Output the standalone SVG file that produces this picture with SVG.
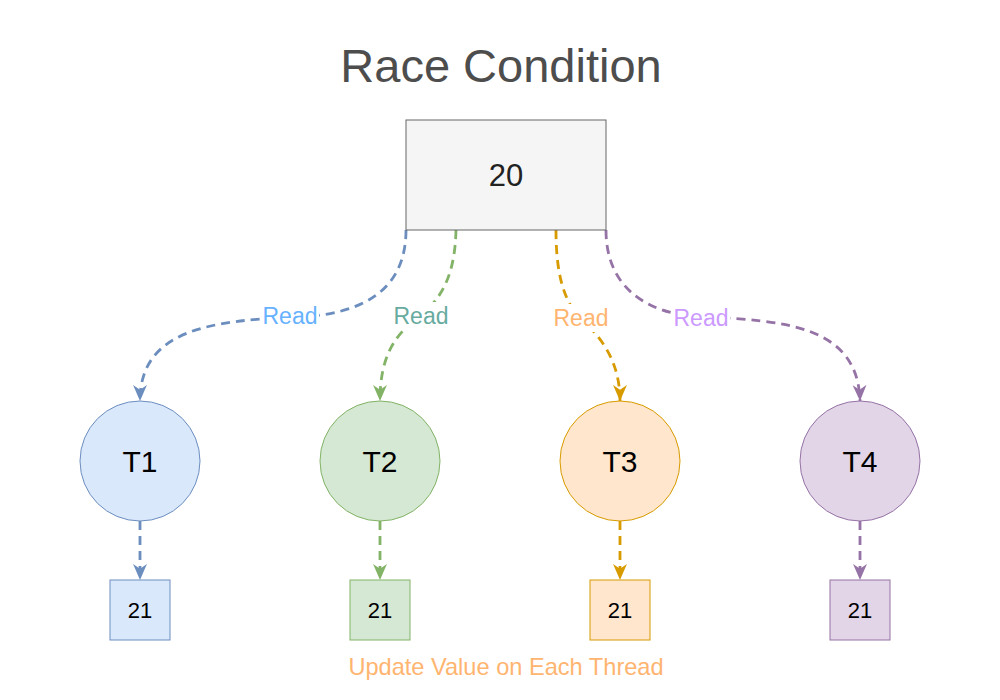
<svg xmlns="http://www.w3.org/2000/svg" width="1000" height="700" viewBox="0 0 1000 700">
<defs>
<style>
text{font-family:"Liberation Sans",Arial,Helvetica,sans-serif;text-anchor:middle}
.title{font-size:47px;fill:#4d4d4d}
.big{font-size:31px;fill:#222}
.node{font-size:30px;fill:#000}
.small{font-size:22px;fill:#000}
.lbl{font-size:23px}
.foot{font-size:23.6px}
.edge{fill:none;stroke-width:2.8;stroke-dasharray:9 6}
.bg{fill:#fff}
</style>
<marker id="aB" viewBox="0 0 12 12" refX="12" refY="6" markerWidth="16" markerHeight="16" markerUnits="userSpaceOnUse" orient="auto"><path d="M0,0.8 L12,6 L0,11.2 L3.5,6 Z" fill="#6c8ebf"/></marker>
<marker id="aG" viewBox="0 0 12 12" refX="12" refY="6" markerWidth="16" markerHeight="16" markerUnits="userSpaceOnUse" orient="auto"><path d="M0,0.8 L12,6 L0,11.2 L3.5,6 Z" fill="#82b366"/></marker>
<marker id="aO" viewBox="0 0 12 12" refX="12" refY="6" markerWidth="16" markerHeight="16" markerUnits="userSpaceOnUse" orient="auto"><path d="M0,0.8 L12,6 L0,11.2 L3.5,6 Z" fill="#d79b00"/></marker>
<marker id="aP" viewBox="0 0 12 12" refX="12" refY="6" markerWidth="16" markerHeight="16" markerUnits="userSpaceOnUse" orient="auto"><path d="M0,0.8 L12,6 L0,11.2 L3.5,6 Z" fill="#9673a6"/></marker>
</defs>
<rect width="1000" height="700" fill="#fff"/>
<text class="title" x="501" y="82">Race Condition</text>

<g id="connectors">
<path class="edge" stroke="#6c8ebf" marker-end="url(#aB)" d="M406,230 C406,292 360,314 300,317 C210,320 140,330 140,401"/>
<path class="edge" stroke="#82b366" marker-end="url(#aG)" d="M456,230 C455,270 445,296 420,316 C392,336 380,360 380,401"/>
<path class="edge" stroke="#d79b00" marker-end="url(#aO)" d="M556,230 C556,272 563,300 580,318 C600,336 620,360 620,401"/>
<path class="edge" stroke="#9673a6" marker-end="url(#aP)" d="M606,230 C606,290 650,314 700,317 C785,320 858,326 860,401"/>
<path class="edge" stroke="#6c8ebf" marker-end="url(#aB)" d="M140,521 L140,580"/>
<path class="edge" stroke="#82b366" marker-end="url(#aG)" d="M380,521 L380,580"/>
<path class="edge" stroke="#d79b00" marker-end="url(#aO)" d="M620,521 L620,580"/>
<path class="edge" stroke="#9673a6" marker-end="url(#aP)" d="M860,521 L860,580"/>
<rect class="bg" x="261" y="304" width="58" height="24"/>
<text class="lbl" x="290" y="324" fill="#66b2ff">Read</text>
<rect class="bg" x="392" y="302" width="58" height="28"/>
<text class="lbl" x="421" y="324" fill="#67ab9f">Read</text>
<rect class="bg" x="552" y="304" width="58" height="28"/>
<text class="lbl" x="581" y="326" fill="#ffb570">Read</text>
<rect class="bg" x="672" y="306" width="58" height="24"/>
<text class="lbl" x="701" y="326" fill="#cc99ff">Read</text>
</g>

<g id="value">
<rect x="406" y="120" width="200" height="110" fill="#f5f5f5" stroke="#666" stroke-width="1"/>
<text class="big" x="506" y="186">20</text>
</g>

<g id="t1"><circle cx="140" cy="461" r="60" fill="#dae8fc" stroke="#6c8ebf"/><text class="node" x="140" y="472">T1</text></g>
<g id="t2"><circle cx="380" cy="461" r="60" fill="#d5e8d4" stroke="#82b366"/><text class="node" x="380" y="472">T2</text></g>
<g id="t3"><circle cx="620" cy="461" r="60" fill="#ffe6cc" stroke="#d79b00"/><text class="node" x="620" y="472">T3</text></g>
<g id="t4"><circle cx="860" cy="461" r="60" fill="#e1d5e7" stroke="#9673a6"/><text class="node" x="860" y="472">T4</text></g>

<g id="v1"><rect x="110" y="580" width="60" height="60" fill="#dae8fc" stroke="#6c8ebf"/><text class="small" x="140" y="618">21</text></g>
<g id="v2"><rect x="350" y="580" width="60" height="60" fill="#d5e8d4" stroke="#82b366"/><text class="small" x="380" y="618">21</text></g>
<g id="v3"><rect x="590" y="580" width="60" height="60" fill="#ffe6cc" stroke="#d79b00"/><text class="small" x="620" y="618">21</text></g>
<g id="v4"><rect x="830" y="580" width="60" height="60" fill="#e1d5e7" stroke="#9673a6"/><text class="small" x="860" y="618">21</text></g>

<text class="foot" x="506" y="675" fill="#ffb570">Update Value on Each Thread</text>
</svg>
